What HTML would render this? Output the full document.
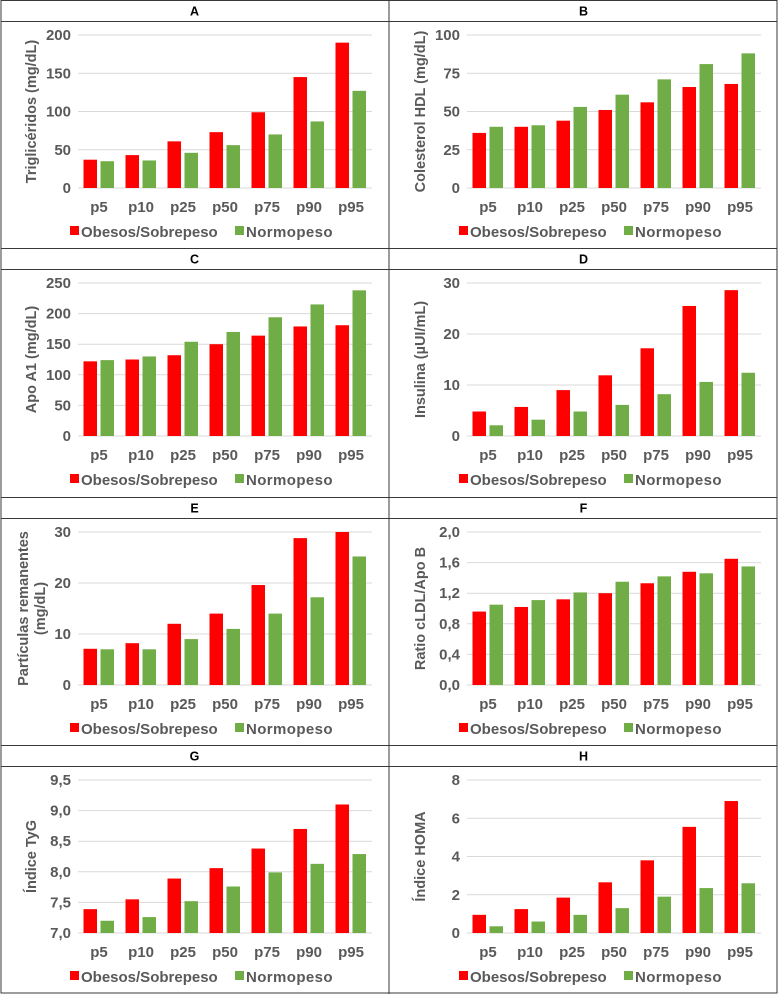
<!DOCTYPE html>
<html><head><meta charset="utf-8"><style>
body{margin:0;background:#fff}
svg{display:block;font-family:"Liberation Sans",Arial,sans-serif}
</style></head><body>
<svg id="fig" width="779" height="994" viewBox="0 0 779 994"></svg>
<script>
const categories = ["p5","p10","p25","p50","p75","p90","p95"];
const aRed = [37,43,61,73,99,145,190];
const aGreen = [35,36,46,56,70,87,127];
const bRed = [36,40,44,51,56,66,68];
const bGreen = [40,41,53,61,71,81,88];
const cRed = [122,125,132,150,164,179,181];
const cGreen = [124,130,154,170,194,215,238];
const dRed = [4.8,5.7,9,11.9,17.2,25.5,28.6];
const dGreen = [2.1,3.2,4.8,6.1,8.2,10.6,12.4];
const eRed = [7.1,8.2,12,14,19.6,28.8,30];
const eGreen = [7,7,9,11,14,17.2,25.2];
const fRed = [0.96,1.02,1.12,1.20,1.33,1.48,1.65];
const fGreen = [1.05,1.11,1.21,1.35,1.42,1.46,1.55];
const gRed = [7.39,7.55,7.89,8.06,8.38,8.70,9.10];
const gGreen = [7.20,7.26,7.52,7.76,7.99,8.13,8.29];
const hRed = [0.95,1.25,1.85,2.65,3.8,5.55,6.9];
const hGreen = [0.35,0.6,0.95,1.3,1.9,2.35,2.6];
const aTicks = ["0","50","100","150","200"];
const bTicks = ["0","25","50","75","100"];
const cTicks = ["0","50","100","150","200","250"];
const dTicks = ["0","10","20","30"];
const eTicks = ["0","10","20","30"];
const fTicks = ["0,0","0,4","0,8","1,2","1,6","2,0"];
const gTicks = ["7,0","7,5","8,0","8,5","9,0","9,5"];
const hTicks = ["0","2","4","6","8"];
const legendLabels = ["Obesos/Sobrepeso","Normopeso"];

const panels = [
 {id:"A",col:0,row:0,red:aRed,green:aGreen,ticks:aTicks,min:0,max:200,title:["Triglicéridos (mg/dL)"]},
 {id:"B",col:1,row:0,red:bRed,green:bGreen,ticks:bTicks,min:0,max:100,title:["Colesterol HDL (mg/dL)"]},
 {id:"C",col:0,row:1,red:cRed,green:cGreen,ticks:cTicks,min:0,max:250,title:["Apo A1 (mg/dL)"]},
 {id:"D",col:1,row:1,red:dRed,green:dGreen,ticks:dTicks,min:0,max:30,title:["Insulina (µUI/mL)"]},
 {id:"E",col:0,row:2,red:eRed,green:eGreen,ticks:eTicks,min:0,max:30,title:["Partículas remanentes","(mg/dL)"]},
 {id:"F",col:1,row:2,red:fRed,green:fGreen,ticks:fTicks,min:0,max:2,title:["Ratio cLDL/Apo B"]},
 {id:"G",col:0,row:3,red:gRed,green:gGreen,ticks:gTicks,min:7,max:9.5,title:["Índice TyG"]},
 {id:"H",col:1,row:3,red:hRed,green:hGreen,ticks:hTicks,min:0,max:8,title:["Índice HOMA"]}
];
const svg = document.getElementById('fig');
const NS = "http://www.w3.org/2000/svg";
function mk(tag, attrs, parent){const e=document.createElementNS(NS,tag);for(const k in attrs)e.setAttribute(k,attrs[k]);(parent||svg).appendChild(e);return e;}
const rowTops=[0,248,497,745];
const colLefts=[0,389];
panels.forEach(p=>{
  const g=mk('g',{});
  
  
  const X=colLefts[p.col], R=rowTops[p.row];
  const hdr=mk('text',{x:X+194.5,y:R+15.5,'text-anchor':'middle','font-size':'12.5','font-weight':'bold',fill:'#000'},g);
  hdr.textContent=p.id;
  
  
  const top=R+35, base=R+188, left=X+78, right=X+372;
  const yS=v=>base-(v-p.min)/(p.max-p.min)*(base-top);
  const nT=p.ticks.length;
  p.ticks.forEach((t,i)=>{
    const v=p.min+(p.max-p.min)*i/(nT-1);
    const y=yS(v);
    const gl=mk('line',{x1:left,x2:right,y1:y,y2:y,stroke:'#d9d9d9','stroke-width':1},g);
    
    
    const tl=mk('text',{x:left-7,y:y+5,'text-anchor':'end','font-size':'15','font-weight':'bold',fill:'#595959'},g);
    tl.textContent=t;
    
    
  });
  const band=(right-left)/categories.length;
  categories.forEach((c,i)=>{
    const cx=left+band*(i+0.5);
    const r=mk('rect',{x:cx-15.5,y:yS(p.red[i]),width:13.5,height:base-yS(p.red[i]),fill:'#ff0000'},g);
    
    
    const gr=mk('rect',{x:cx+1.5,y:yS(p.green[i]),width:13.5,height:base-yS(p.green[i]),fill:'#70ad47'},g);
    
    
    const xl=mk('text',{x:cx,y:R+212,'text-anchor':'middle','font-size':'15','font-weight':'bold',fill:'#595959'},g);
    xl.textContent=c;
    
    
  });
  const cy=(top+base)/2, tx=X+31;
  const yt=mk('text',{transform:`translate(${tx},${cy}) rotate(-90)`,'text-anchor':'middle','font-size':'14.5','font-weight':'bold',fill:'#595959'},g);
  
  
  p.title.forEach((line,i)=>{
    const ts=mk('tspan',{x:0,y:(p.title.length===1?5:(i===0?-3:14))},yt);
    ts.textContent=line;
  });
  const lr=mk('rect',{x:X+70,y:R+226,width:9,height:9,fill:'#ff0000'},g);
  
  
  const lt1=mk('text',{x:X+81,y:R+237,'font-size':'15','font-weight':'bold',fill:'#595959'},g);
  lt1.textContent=legendLabels[0];
  
  
  const lg=mk('rect',{x:X+235,y:R+226,width:9,height:9,fill:'#70ad47'},g);
  
  
  const lt2=mk('text',{x:X+246,y:R+237,'font-size':'15','font-weight':'bold',fill:'#595959','letter-spacing':'0.4'},g);
  lt2.textContent=legendLabels[1];
  
  
});
const bc='#3a3a3a';
mk('rect',{x:1,y:0.5,width:776,height:992.5,fill:'none',stroke:bc,'stroke-width':1});
mk('line',{x1:389,x2:389,y1:0,y2:994,stroke:bc,'stroke-width':1});
rowTops.forEach((r,i)=>{
  if(i>0) mk('line',{x1:1,x2:777,y1:r+0.5,y2:r+0.5,stroke:bc,'stroke-width':1});
  mk('line',{x1:1,x2:777,y1:r+21.5,y2:r+21.5,stroke:bc,'stroke-width':1});
});
</script>
</body></html>
